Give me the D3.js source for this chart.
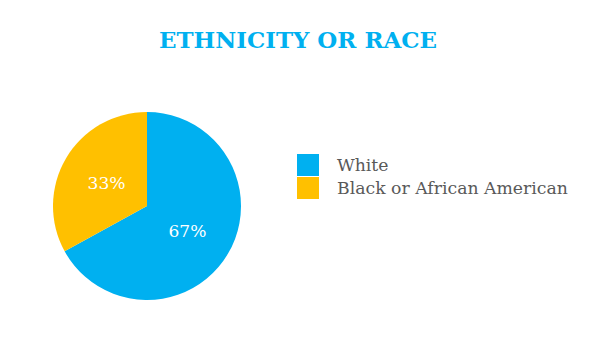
<!DOCTYPE html>
<html>
<head>
<meta charset="utf-8">
<script src="https://cdn.jsdelivr.net/npm/d3@7/dist/d3.min.js"></script>
<style>
  html, body { margin: 0; padding: 0; background: #fff; }
  svg { display: block; }
</style>
</head>
<body>
<svg id="chart" width="600" height="350"></svg>
<script>
const title = "ETHNICITY OR RACE";
const categories = ["White", "Black or African American"];
const values = [67, 33];
const colors = ["#00B0F0", "#FFC000"];

const svg = d3.select("#chart");
const cx = 147, cy = 206, r = 94;
const serif = "'DejaVu Serif', serif";

// fit a text's font size so its width matches the target width
function fit(sel, target) {
  const node = sel.node();
  const fs = parseFloat(sel.attr("font-size"));
  const w = node.getComputedTextLength();
  if (w > 0) sel.attr("font-size", (fs * target / w).toFixed(2));
}

const t = svg.append("text")
  .attr("x", 298).attr("y", 48)
  .attr("text-anchor", "middle")
  .style("font-family", serif)
  .attr("font-weight", "bold")
  .attr("font-size", 26)
  .attr("fill", "#00B0F0")
  .text(title);
fit(t, 278);

const data = categories.map((c, i) => ({ name: c, value: values[i], color: colors[i] }));
const pie = d3.pie().value(d => d.value).sort(null);
const arc = d3.arc().innerRadius(0).outerRadius(r);
const arcs = pie(data);

const g = svg.append("g").attr("transform", `translate(${cx},${cy})`);
g.selectAll("path").data(arcs).join("path")
  .attr("d", arc)
  .attr("fill", d => d.data.color);

g.selectAll("text").data(arcs).join("text")
  .attr("transform", d => { const c = arc.centroid(d); return `translate(${c[0]},${c[1] + 1})`; })
  .attr("text-anchor", "middle")
  .attr("dy", "0.35em")
  .style("font-family", serif)
  .attr("font-size", 20)
  .attr("fill", "#fff")
  .text(d => d.data.value + "%")
  .each(function() { fit(d3.select(this), 38); });

const legend = svg.append("g").attr("transform", "translate(297,154)");
const item = legend.selectAll("g").data(data).join("g")
  .attr("transform", (d, i) => `translate(0,${i * 23})`);
item.append("rect").attr("width", 22).attr("height", 22).attr("fill", d => d.color);
const lt = item.append("text")
  .attr("x", 40).attr("y", 17)
  .style("font-family", serif)
  .attr("font-size", 21)
  .attr("fill", "#595959")
  .text(d => d.name);
// size from the longest legend entry, apply to both
const longest = lt.filter((d, i) => i === 1);
fit(longest, 231);
lt.attr("font-size", longest.attr("font-size"));
</script>
</body>
</html>
